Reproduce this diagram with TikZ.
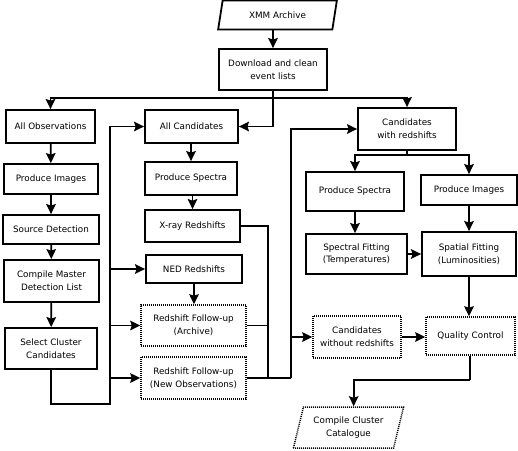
\documentclass[tikz,border=0pt]{standalone}
\usepackage{fontspec}
\setmainfont{DejaVu Sans}
\usetikzlibrary{shapes.geometric,arrows.meta,calc}
\begin{document}
\begin{tikzpicture}[x=1pt,y=-1pt,
  every node/.style={font=\fontsize{8.8}{12.8}\selectfont, align=center, inner sep=0pt},
  box/.style={draw, line width=1.8pt, rectangle},
  dbox/.style={draw, line width=1.5pt, dash pattern=on 1pt off 1pt, rectangle},
  para/.style={draw, trapezium, trapezium left angle=71, trapezium right angle=109, trapezium stretches=true},
  ln/.style={line width=1.8pt},
  arr/.style={line width=1.8pt, -{Stealth[length=10pt,width=9.5pt,inset=1.5pt]}}]
\useasboundingbox (0,0) rectangle (518,450);
% nodes
\node[para, line width=1.8pt, minimum width=119, minimum height=29] (xmm) at (277.5,15) {XMM Archive};
\node[box, minimum width=108, minimum height=41] (dl) at (273,69.5) {Download and clean\\event lists};
\node[box, minimum width=89, minimum height=33] (allobs) at (50.5,126.5) {All Observations};
\node[box, minimum width=93, minimum height=33] (allcand) at (191.5,126.5) {All Candidates};
\node[box, minimum width=98, minimum height=42] (cwr) at (407,129) {Candidates\\with redshifts};
\node[box, minimum width=94, minimum height=30] (pimg) at (51,179) {Produce Images};
\node[box, minimum width=96, minimum height=29] (srcdet) at (51,229.5) {Source Detection};
\node[box, minimum width=95, minimum height=42] (cmdl) at (51.5,281) {Compile Master\\Detection List};
\node[box, minimum width=92, minimum height=41] (scc) at (51,348.5) {Select Cluster\\Candidates};
\node[box, minimum width=92, minimum height=33] (pspec) at (191,178.5) {Produce Spectra};
\node[box, minimum width=95, minimum height=32] (xray) at (192.5,226) {X-ray Redshifts};
\node[box, minimum width=96, minimum height=28] (ned) at (194,269) {NED Redshifts};
\node[dbox, minimum width=105, minimum height=41] (rfa) at (193.5,325.5) {Redshift Follow-up\\(Archive)};
\node[dbox, minimum width=105, minimum height=42] (rfn) at (193.5,378) {Redshift Follow-up\\(New Observations)};
\node[dbox, minimum width=88, minimum height=42] (cnr) at (357,337) {Candidates\\without redshifts};
\node[dbox, minimum width=89, minimum height=38] (qc) at (470.5,336) {Quality Control};
\node[box, minimum width=98, minimum height=39] (pspec2) at (355,191.5) {Produce Spectra};
\node[box, minimum width=96, minimum height=30] (pimg2) at (469,190) {Produce Images};
\node[box, minimum width=101, minimum height=40] (sfit) at (356.5,254) {Spectral Fitting\\(Temperatures)};
\node[box, minimum width=94, minimum height=44] (spfit) at (469,254) {Spatial Fitting\\(Luminosities)};
\node[para, line width=1.5pt, dash pattern=on 1pt off 1pt, trapezium left angle=70, trapezium right angle=110, minimum width=111, minimum height=41] (ccc) at (348.5,427.5) {Compile Cluster\\Catalogue};
% coordinates
\coordinate (split) at (273,98);
\coordinate (loopL) at (110,404);
\coordinate (mergeA) at (268,378);
\coordinate (joinB) at (291,378);
\coordinate (split2) at (407,155);
\coordinate (qcturn) at (470,380);
\coordinate (ccctop) at ($(ccc.top left corner)!0.5!(ccc.top right corner)$);
% connectors
\draw[arr] (xmm.south -| dl.north) -- (dl.north);
\draw[ln] (dl.south) -- (split);
\draw[arr] (split) -| (allobs.north);
\draw[arr] (split) -| (cwr.north);
\draw[arr] (split) |- (allcand.east);
\draw[arr] (allobs) -- (pimg);
\draw[arr] (pimg) -- (srcdet);
\draw[arr] (srcdet) -- (cmdl);
\draw[arr] (cmdl) -- (scc);
\draw[arr] (scc.south) |- (loopL) |- (allcand.west);
\draw[arr] (loopL) |- (ned.west);
\draw[arr] (loopL) |- (rfa.west);
\draw[arr] (loopL) |- (rfn.west);
\draw[arr] (allcand.south -| pspec) -- (pspec.north);
\draw[arr] (pspec.south -| xray) -- (xray.north);
\draw[arr] (ned.south) -- (ned.south |- rfa.north);
\draw[ln] (xray.east) -| (mergeA);
\draw[ln] (rfa.east) -- (rfa.east -| mergeA);
\draw[ln] (rfn.east) -- (joinB);
\draw[arr] (joinB) |- (cwr.west);
\draw[arr] (joinB) |- (cnr.west);
\draw[ln] (cwr.south) -- (split2);
\draw[arr] (split2) -| (pspec2.north);
\draw[arr] (split2) -| (pimg2.north);
\draw[arr] (pspec2.south) -- (sfit.north -| pspec2.south);
\draw[arr] (pimg2.south) -- (spfit.north);
\draw[arr] (sfit.east) -- (spfit.west |- sfit.east);
\draw[arr] (spfit.south) -- (spfit.south |- qc.north);
\draw[arr] (cnr.east) -- (qc.west |- cnr.east);
\draw[ln] (qc.south -| qcturn) -- (qcturn);
\draw[arr] (qcturn) -| (ccctop);
\end{tikzpicture}
\end{document}
